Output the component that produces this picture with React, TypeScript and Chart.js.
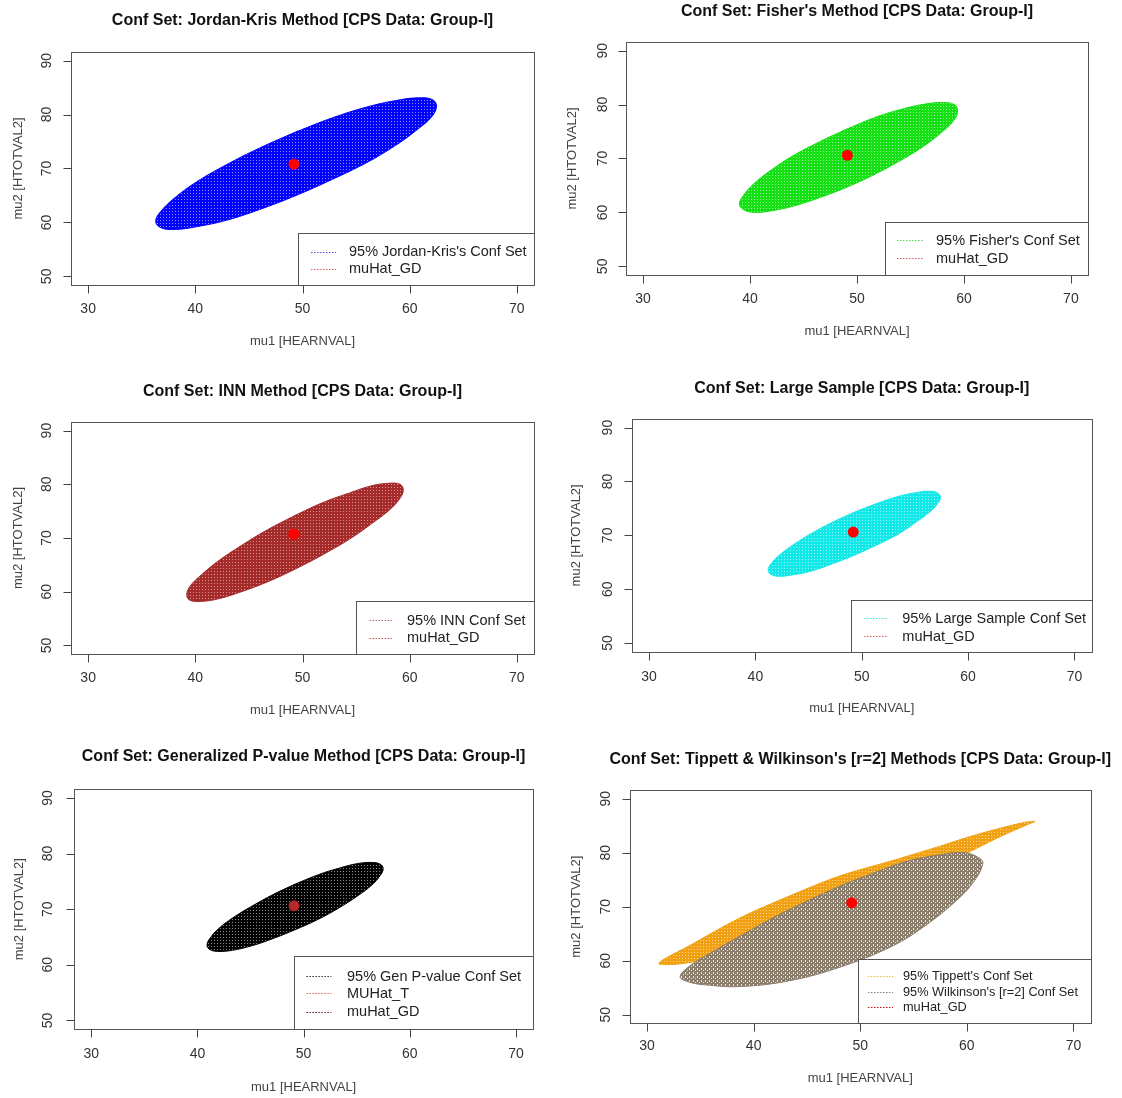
import React, { useEffect, useRef } from "react";
import { Chart, registerables } from "chart.js";
Chart.register(...registerables);

const FONT = '"Liberation Sans", Arial, Helvetica, sans-serif';

// ---------- shared axes ----------
const xTicks = [30, 40, 50, 60, 70];
const yTicks = [50, 60, 70, 80, 90];
const xLimits = [28.4, 71.6];
const yLimits = [48.4, 91.6];
const xAxisTitle = "mu1 [HEARNVAL]";
const yAxisTitle = "mu2 [HTOTVAL2]";

// ---------- titles ----------
const titles = [
  "Conf Set: Jordan-Kris Method [CPS Data: Group-I]",
  "Conf Set: Fisher's Method [CPS Data: Group-I]",
  "Conf Set: INN Method [CPS Data: Group-I]",
  "Conf Set: Large Sample [CPS Data: Group-I]",
  "Conf Set: Generalized P-value Method [CPS Data: Group-I]",
  "Conf Set: Tippett & Wilkinson's [r=2] Methods [CPS Data: Group-I]",
];

// ---------- legend labels ----------
const legendJK = ["95% Jordan-Kris's Conf Set", "muHat_GD"];
const legendFI = ["95% Fisher's Conf Set", "muHat_GD"];
const legendINN = ["95% INN Conf Set", "muHat_GD"];
const legendLS = ["95% Large Sample Conf Set", "muHat_GD"];
const legendGP = ["95% Gen P-value Conf Set", "MUHat_T", "muHat_GD"];
const legendTW = ["95% Tippett's Conf Set", "95% Wilkinson's [r=2] Conf Set", "muHat_GD"];

// ---------- confidence-set outlines (mu1, mu2) ----------
const jkX = [49.4, 46.0, 42.9, 40.1, 38.1, 36.8, 36.3, 36.8, 38.1, 40.1, 42.9, 46.0, 49.4, 52.8, 56.0, 58.7, 60.7, 62.1, 62.5, 62.1, 60.7, 58.7, 56.0, 52.8, 49.4];
const jkY = [76.8, 73.8, 70.7, 67.5, 64.6, 62.1, 60.2, 59.0, 58.7, 59.2, 60.4, 62.4, 65.0, 68.0, 71.1, 74.3, 77.2, 79.7, 81.6, 82.8, 83.1, 82.6, 81.4, 79.4, 76.8];

const fiX = [49.2, 46.6, 44.1, 42.0, 40.4, 39.4, 39.0, 39.4, 40.4, 42.0, 44.1, 46.6, 49.2, 51.8, 54.3, 56.4, 58.0, 59.1, 59.4, 59.1, 58.0, 56.4, 54.3, 51.8, 49.2];
const fiY = [75.6, 73.2, 70.6, 67.9, 65.4, 63.2, 61.6, 60.5, 60.0, 60.3, 61.2, 62.8, 64.8, 67.2, 69.9, 72.5, 75.0, 77.2, 78.9, 80.0, 80.4, 80.1, 79.2, 77.7, 75.6];

const inX = [49.3, 46.7, 44.3, 42.2, 40.6, 39.5, 39.2, 39.5, 40.6, 42.2, 44.3, 46.7, 49.3, 51.9, 54.4, 56.4, 58.1, 59.1, 59.4, 59.1, 58.1, 56.4, 54.4, 51.9, 49.3];
const inY = [74.2, 71.5, 68.6, 65.8, 63.2, 61.0, 59.4, 58.4, 58.2, 58.7, 60.0, 61.8, 64.2, 66.9, 69.8, 72.6, 75.2, 77.4, 79.0, 80.0, 80.2, 79.7, 78.4, 76.6, 74.2];

const lsX = [49.3, 47.2, 45.3, 43.6, 42.3, 41.5, 41.2, 41.5, 42.3, 43.6, 45.3, 47.2, 49.3, 51.4, 53.4, 55.0, 56.3, 57.1, 57.4, 57.1, 56.3, 55.0, 53.4, 51.4, 49.3];
const lsY = [74.3, 72.4, 70.4, 68.3, 66.4, 64.8, 63.5, 62.7, 62.4, 62.7, 63.4, 64.7, 66.3, 68.2, 70.2, 72.3, 74.2, 75.8, 77.1, 77.9, 78.2, 77.9, 77.2, 75.9, 74.3];

const gpX = [49.2, 47.1, 45.1, 43.3, 42.0, 41.2, 40.9, 41.2, 42.0, 43.3, 45.1, 47.1, 49.2, 51.4, 53.4, 55.1, 56.4, 57.2, 57.5, 57.2, 56.4, 55.1, 53.4, 51.4, 49.2];
const gpY = [74.5, 72.6, 70.5, 68.4, 66.5, 64.8, 63.5, 62.7, 62.4, 62.6, 63.4, 64.7, 66.3, 68.2, 70.3, 72.4, 74.3, 76.0, 77.3, 78.1, 78.4, 78.2, 77.4, 76.2, 74.5];

const tpX = [66.4, 65.4, 62.5, 60.0, 57.5, 52.8, 48.1, 43.4, 38.7, 34.0, 31.1, 33.5, 38.0, 44.0, 50.0, 56.0, 60.6, 63.5, 66.4];
const tpY = [85.8, 85.6, 84.2, 82.8, 81.2, 78.4, 75.7, 72.0, 67.9, 62.8, 59.5, 59.5, 61.5, 65.5, 70.5, 76.0, 80.5, 83.3, 85.8];

const wkX = [51.2, 48.1, 45.0, 41.8, 38.7, 35.6, 34.0, 33.1, 34.0, 35.6, 38.7, 43.4, 48.1, 52.8, 55.9, 59.0, 60.6, 61.5, 61.0, 59.7, 57.5, 54.4, 51.2];
const wkY = [76.2, 73.8, 71.0, 67.9, 64.5, 61.0, 59.0, 57.0, 56.0, 55.5, 55.2, 56.3, 58.8, 62.5, 66.2, 71.1, 74.5, 78.0, 79.2, 80.0, 79.6, 78.4, 76.2];

// ---------- point estimate muHat_GD per panel ----------
const muHatX = [49.2, 49.1, 49.2, 49.2, 49.1, 49.2];
const muHatY = [70.8, 70.6, 70.7, 70.6, 70.6, 70.7];

type Shape = { xs: number[]; ys: number[]; base: string; speck: string; coarse?: boolean; tension: number };
type Panel = {
  title: string;
  area: { l: number; t: number; r: number; b: number };
  titleY: number;
  xTickY: number;
  xLabY: number;
  yTickX: number;
  yLabX: number;
  shapes: Shape[]; // first = drawn on top
  dotColor: string;
  legend: {
    l: number;
    t: number;
    rows: number[];
    line: [number, number];
    text: number;
    font: number;
    labels: string[];
    colors: string[];
  };
};

const PANELS: Panel[] = [
  {
    title: titles[0],
    area: { l: 71, t: 52, r: 534, b: 285 },
    titleY: 21, xTickY: 309.5, xLabY: 341.5, yTickX: 47, yLabX: 18.5,
    shapes: [{ xs: jkX, ys: jkY, base: "#0000ff", speck: "#8c8cff", tension: 0.4 }],
    dotColor: "#ff0000",
    legend: { l: 298, t: 233, rows: [251.5, 268.5], line: [311, 336], text: 349, font: 14.5, labels: legendJK, colors: ["#4a4ad0", "#e06060"] },
  },
  {
    title: titles[1],
    area: { l: 626, t: 42, r: 1088, b: 275 },
    titleY: 12, xTickY: 299, xLabY: 331.5, yTickX: 603, yLabX: 572.5,
    shapes: [{ xs: fiX, ys: fiY, base: "#14e014", speck: "#9af29a", tension: 0.4 }],
    dotColor: "#ff0000",
    legend: { l: 885, t: 222, rows: [240, 258.3], line: [897, 924], text: 936, font: 14.5, labels: legendFI, colors: ["#50d850", "#d06060"] },
  },
  {
    title: titles[2],
    area: { l: 71, t: 422, r: 534, b: 654 },
    titleY: 391.7, xTickY: 678.3, xLabY: 710.7, yTickX: 47, yLabX: 18.5,
    shapes: [{ xs: inX, ys: inY, base: "#a52a2a", speck: "#d49494", tension: 0.4 }],
    dotColor: "#ff0000",
    legend: { l: 356.4, t: 600.7, rows: [620, 637.7], line: [369.6, 392.9], text: 407, font: 14.5, labels: legendINN, colors: ["#b06060", "#c05050"] },
  },
  {
    title: titles[3],
    area: { l: 632, t: 419, r: 1091.5, b: 651.7 },
    titleY: 388.3, xTickY: 676.7, xLabY: 708.3, yTickX: 608.4, yLabX: 576,
    shapes: [{ xs: lsX, ys: lsY, base: "#12e8e8", speck: "#96f4f4", tension: 0.4 }],
    dotColor: "#ff0000",
    legend: { l: 851, t: 600, rows: [618.3, 636], line: [864, 888], text: 902.3, font: 14.5, labels: legendLS, colors: ["#40e0e0", "#d06060"] },
  },
  {
    title: titles[4],
    area: { l: 74.3, t: 789, r: 532.9, b: 1029.3 },
    titleY: 756.7, xTickY: 1054, xLabY: 1087.3, yTickX: 48.2, yLabX: 19.6,
    shapes: [{ xs: gpX, ys: gpY, base: "#000000", speck: "#8a8a8a", tension: 0.4 }],
    dotColor: "#b22a2a",
    legend: { l: 294, t: 956, rows: [976, 993.3, 1011.7], line: [306.4, 331.4], text: 347, font: 14.5, labels: legendGP, colors: ["#303030", "#e06060", "#602020"] },
  },
  {
    title: titles[5],
    area: { l: 630, t: 790, r: 1090.5, b: 1023.3 },
    titleY: 759.3, xTickY: 1046, xLabY: 1078.3, yTickX: 606.6, yLabX: 576,
    shapes: [
      { xs: wkX, ys: wkY, base: "#8b7d6b", speck: "#ece6dc", coarse: true, tension: 0.4 },
      { xs: tpX, ys: tpY, base: "#f0a010", speck: "#f8d890", tension: 0.3 },
    ],
    dotColor: "#ff0000",
    legend: { l: 857.5, t: 959.3, rows: [976, 991.7, 1007.3], line: [868, 893], text: 903, font: 12.75, labels: legendTW, colors: ["#e0c030", "#8b7d6b", "#c01010"] },
  },
];

function makePattern(ctx: CanvasRenderingContext2D, s: Shape): CanvasPattern | string {
  const tile = document.createElement("canvas");
  const w = s.coarse ? 4 : 3;
  const h = s.coarse ? 4 : 3;
  tile.width = w;
  tile.height = h;
  const g = tile.getContext("2d");
  if (!g) return s.base;
  g.fillStyle = s.base;
  g.fillRect(0, 0, w, h);
  g.fillStyle = s.speck;
  if (s.coarse) {
    g.fillRect(1, 0, 1, 2);
    g.fillRect(3, 2, 1, 1);
  } else {
    g.fillRect(1, 1, 1, 1);
  }
  return ctx.createPattern(tile, "repeat") || s.base;
}

function decorPlugin(p: Panel) {
  return {
    id: "decor",
    afterDatasetsDraw(chart: any) {
      const ctx: CanvasRenderingContext2D = chart.ctx;
      const a = chart.chartArea;
      const xs = chart.scales.x;
      const ys = chart.scales.y;
      ctx.save();

      // legend
      const lg = p.legend;
      const lgL = Math.round(lg.l) + 0.5;
      const lgT = Math.round(lg.t) + 0.5;
      ctx.fillStyle = "#ffffff";
      ctx.fillRect(lgL, lgT, a.right - lgL, a.bottom - lgT);
      ctx.strokeStyle = "#555555";
      ctx.lineWidth = 1;
      ctx.strokeRect(lgL, lgT, Math.round(a.right) - lgL + 0.5, Math.round(a.bottom) - lgT + 0.5);
      ctx.font = `${lg.font}px ${FONT}`;
      ctx.textAlign = "left";
      ctx.textBaseline = "middle";
      lg.labels.forEach((lab, k) => {
        const yy = lg.rows[k];
        ctx.save();
        ctx.setLineDash([1.5, 1.5]);
        ctx.strokeStyle = lg.colors[k];
        ctx.beginPath();
        ctx.moveTo(lg.line[0], Math.round(yy) + 0.5);
        ctx.lineTo(lg.line[1], Math.round(yy) + 0.5);
        ctx.stroke();
        ctx.restore();
        ctx.fillStyle = "#222222";
        ctx.fillText(lab, lg.text, yy + 0.5);
      });

      // plot box
      ctx.strokeStyle = "#555555";
      ctx.lineWidth = 1;
      const L = Math.round(a.left) + 0.5;
      const T = Math.round(a.top) + 0.5;
      const R = Math.round(a.right) + 0.5;
      const B = Math.round(a.bottom) + 0.5;
      ctx.strokeRect(L, T, R - L, B - T);

      // ticks
      ctx.strokeStyle = "#444444";
      ctx.beginPath();
      xTicks.forEach((v) => {
        const px = Math.round(xs.getPixelForValue(v)) + 0.5;
        ctx.moveTo(px, B);
        ctx.lineTo(px, B + 8);
      });
      yTicks.forEach((v) => {
        const py = Math.round(ys.getPixelForValue(v)) + 0.5;
        ctx.moveTo(L, py);
        ctx.lineTo(L - 8, py);
      });
      ctx.stroke();

      // tick labels
      ctx.fillStyle = "#333333";
      ctx.font = `14px ${FONT}`;
      ctx.textAlign = "center";
      ctx.textBaseline = "middle";
      xTicks.forEach((v) => {
        ctx.fillText(String(v), xs.getPixelForValue(v), p.xTickY);
      });
      yTicks.forEach((v) => {
        ctx.save();
        ctx.translate(p.yTickX, ys.getPixelForValue(v));
        ctx.rotate(-Math.PI / 2);
        ctx.fillText(String(v), 0, 0);
        ctx.restore();
      });

      // axis titles
      ctx.fillStyle = "#444444";
      ctx.font = `13px ${FONT}`;
      const cx = (a.left + a.right) / 2;
      const cy = (a.top + a.bottom) / 2;
      ctx.fillText(xAxisTitle, cx, p.xLabY);
      ctx.save();
      ctx.translate(p.yLabX, cy);
      ctx.rotate(-Math.PI / 2);
      ctx.fillText(yAxisTitle, 0, 0);
      ctx.restore();

      // main title
      ctx.fillStyle = "#111111";
      ctx.font = `bold 16px ${FONT}`;
      ctx.fillText(p.title, cx, p.titleY);

      ctx.restore();
    },
  };
}

function PanelChart({ p, idx }: { p: Panel; idx: number }) {
  const ref = useRef<HTMLCanvasElement | null>(null);
  useEffect(() => {
    const canvas = ref.current;
    if (!canvas) return;
    const ctx = canvas.getContext("2d") as CanvasRenderingContext2D;
    const datasets: any[] = [
      {
        type: "line",
        label: "muHat_GD",
        data: [{ x: muHatX[idx], y: muHatY[idx] }],
        showLine: false,
        pointRadius: 5.5,
        pointBackgroundColor: p.dotColor,
        pointBorderWidth: 0,
        pointBorderColor: p.dotColor,
        order: 0,
      },
      ...p.shapes.map((s, k) => ({
        type: "line",
        label: "set" + k,
        data: s.xs.map((x, j) => ({ x, y: s.ys[j] })),
        fill: "shape",
        backgroundColor: makePattern(ctx, s),
        borderColor: s.base,
        borderWidth: 1,
        pointRadius: 0,
        pointHoverRadius: 0,
        tension: s.tension,
        order: 1 + k,
      })),
    ];
    const chart = new Chart(canvas, {
      type: "line",
      data: { datasets },
      options: {
        animation: false,
        responsive: false,
        devicePixelRatio: 1,
        events: [],
        layout: {
          padding: { left: p.area.l, top: p.area.t, right: 1122 - p.area.r, bottom: 1098 - p.area.b },
        },
        scales: {
          x: { type: "linear", min: xLimits[0], max: xLimits[1], display: false },
          y: { type: "linear", min: yLimits[0], max: yLimits[1], display: false },
        },
        plugins: { legend: { display: false }, tooltip: { enabled: false }, title: { display: false } },
      } as any,
      plugins: [decorPlugin(p)],
    });
    return () => chart.destroy();
  }, [p, idx]);
  return (
    <canvas
      ref={ref}
      width={1122}
      height={1098}
      style={{ position: "absolute", left: 0, top: 0, width: 1122, height: 1098, display: "block" }}
    />
  );
}

export default function App() {
  return (
    <div style={{ position: "absolute", left: 0, top: 0, width: 1122, height: 1098, background: "#ffffff", overflow: "hidden" }}>
      {PANELS.map((p, i) => (
        <PanelChart key={i} p={p} idx={i} />
      ))}
    </div>
  );
}
